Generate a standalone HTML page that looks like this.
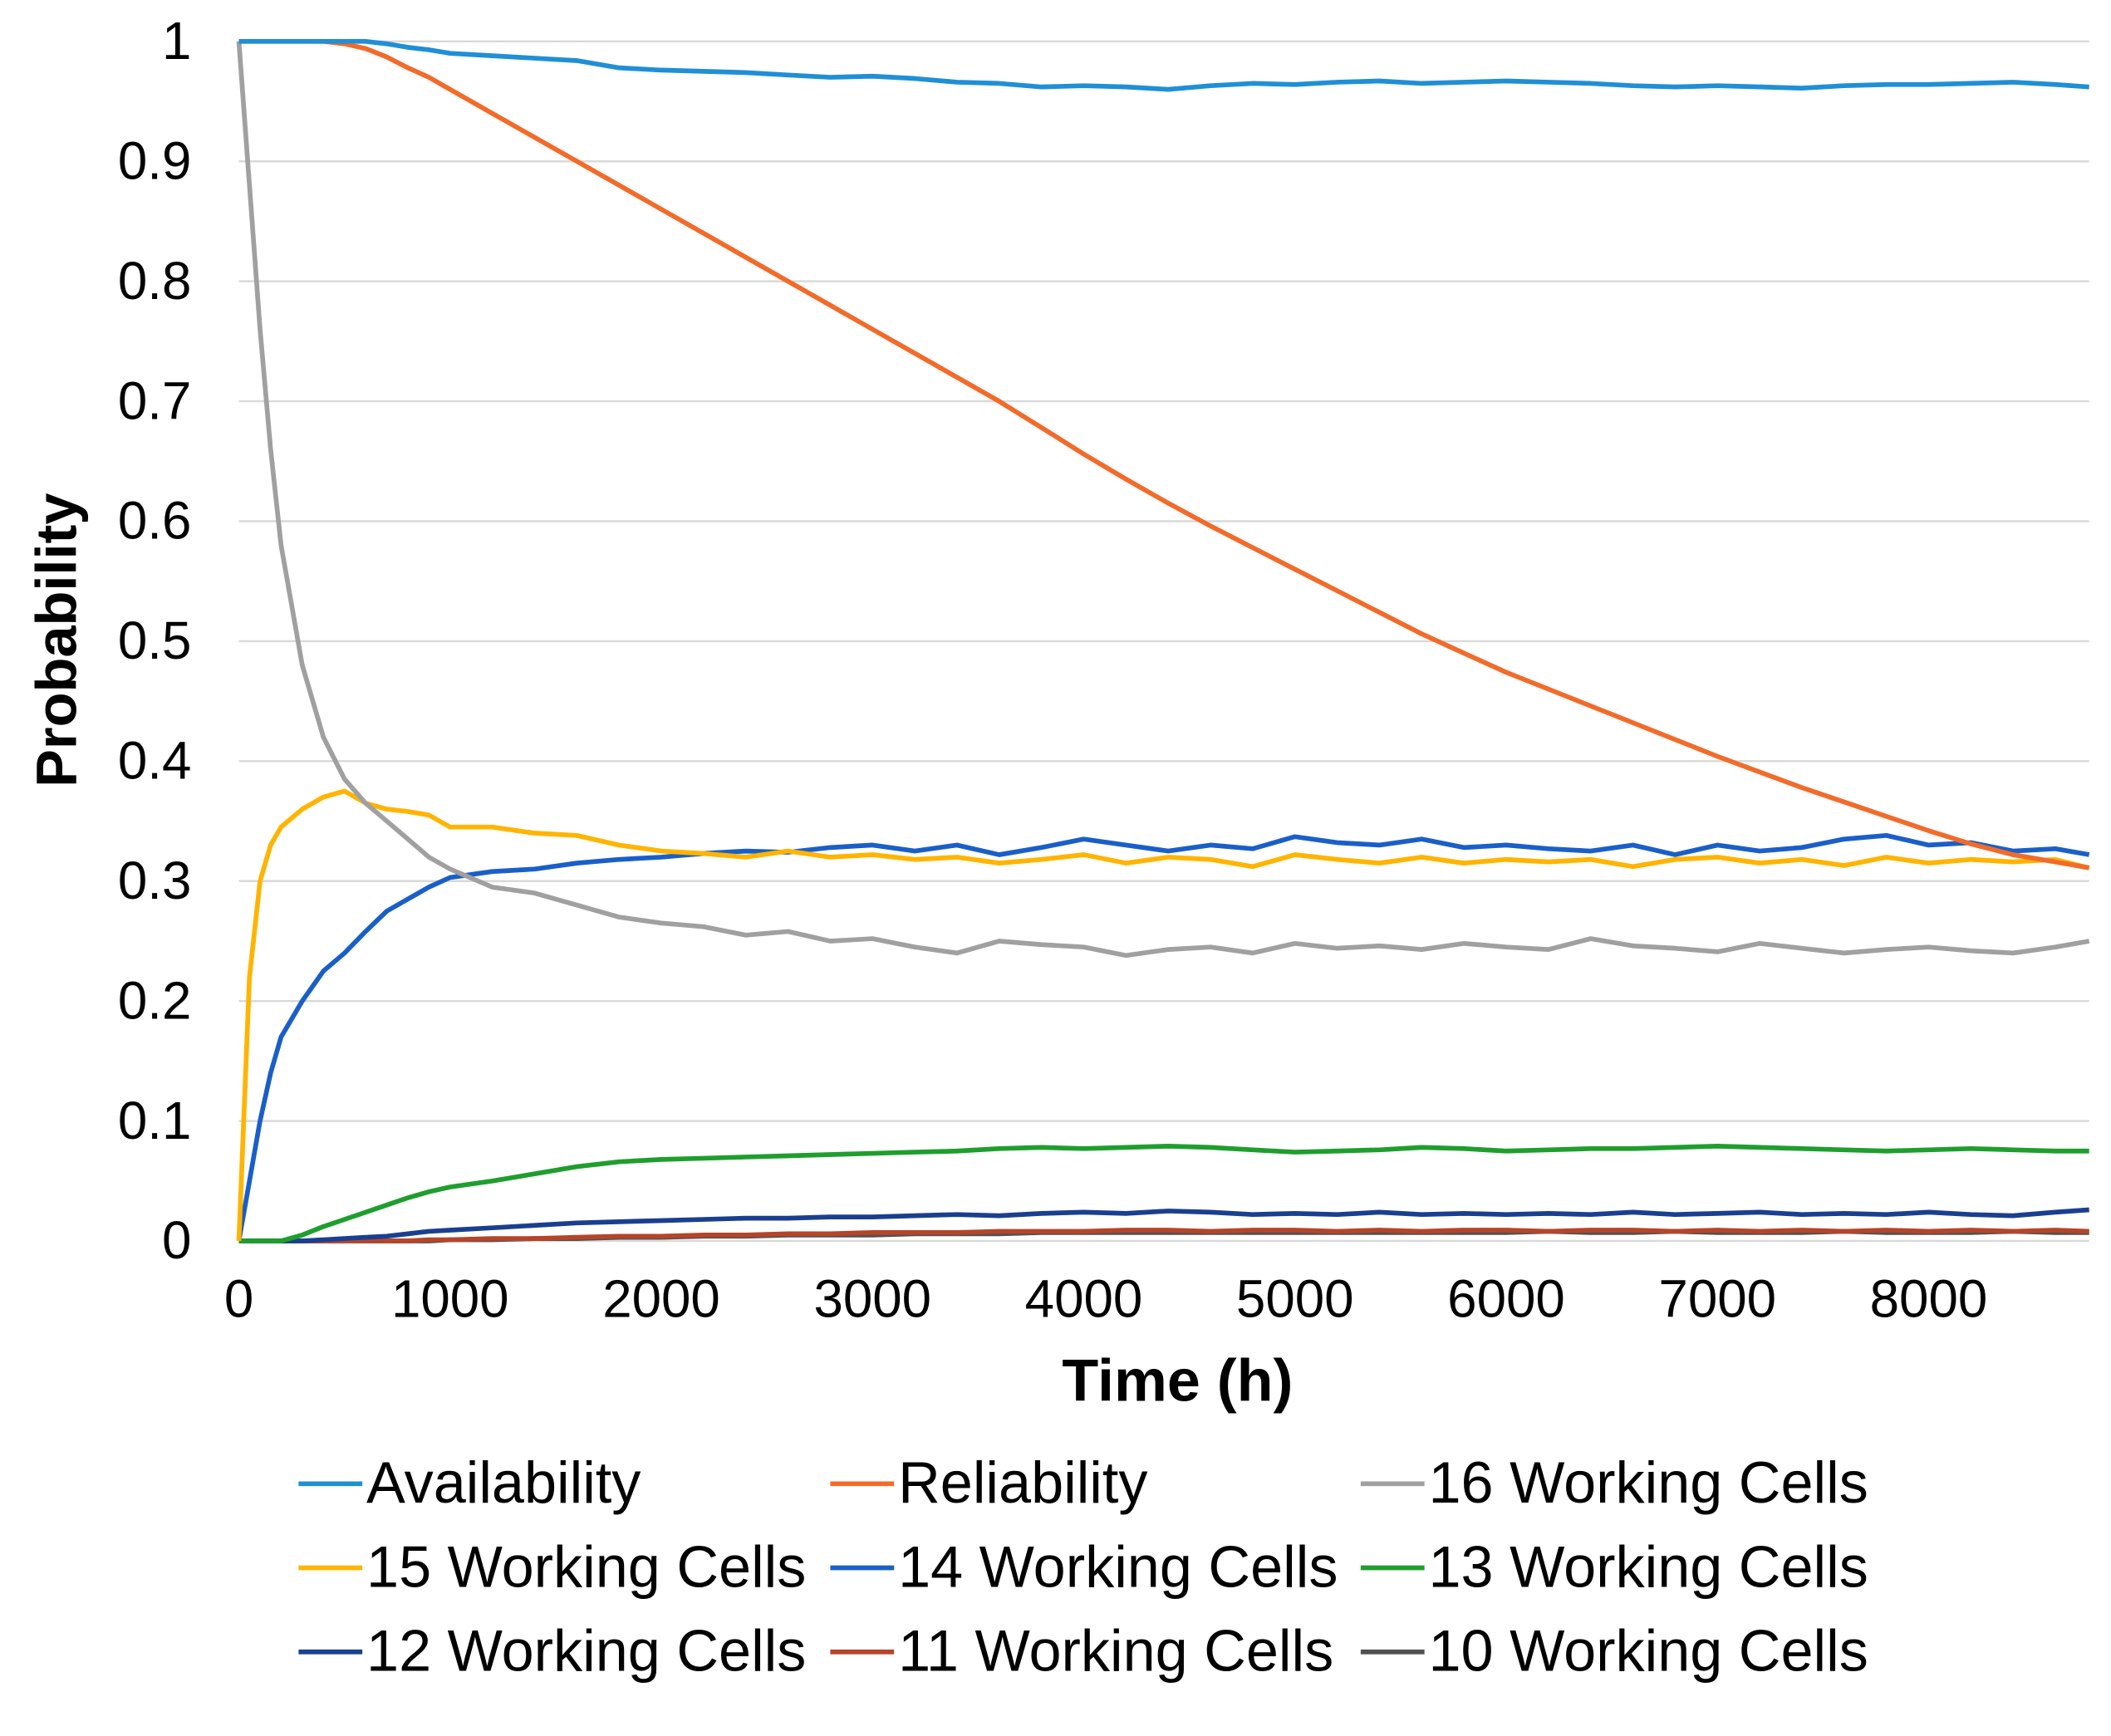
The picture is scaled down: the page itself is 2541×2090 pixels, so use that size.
<!DOCTYPE html>
<html><head><meta charset="utf-8"><style>
html,body{margin:0;padding:0;background:#fff;}
svg{display:block;font-family:"Liberation Sans",Arial,sans-serif;}
</style></head><body>
<svg id="chart" width="2541" height="2090" viewBox="0 0 1556 1280" xmlns="http://www.w3.org/2000/svg">
<g id="grid"></g>
<g id="yticks" font-size="39" text-anchor="end"></g>
<g id="xticks" font-size="39" text-anchor="middle"></g>
<g id="series"></g>
<text x="868" y="1033" font-size="44" font-weight="bold" text-anchor="middle">Time (h)</text>
<text transform="translate(56,472) rotate(-90)" font-size="42" font-weight="bold" text-anchor="middle">Probability</text>
<g id="legend" font-size="43"></g>
</svg>
<script>
const yTicks=[0,0.1,0.2,0.3,0.4,0.5,0.6,0.7,0.8,0.9,1];
const yTickLabels=["0","0.1","0.2","0.3","0.4","0.5","0.6","0.7","0.8","0.9","1"];
const xTicks=[0,1000,2000,3000,4000,5000,6000,7000,8000];
const seriesNames=["Availability","Reliability","16 Working Cells","15 Working Cells","14 Working Cells","13 Working Cells","12 Working Cells","11 Working Cells","10 Working Cells"];
const seriesColors=["#1f8fd6","#f26b2a","#a0a0a0","#ffb400","#1a5fc8","#1f9e2e","#1a3f8f","#b5452a","#505050"];
const times=[0,50,100,150,200,300,400,500,600,700,800,900,1000,1200,1400,1600,1800,2000,2200,2400,2600,2800,3000,3200,3400,3600,3800,4000,4200,4400,4600,4800,5000,5200,5400,5600,5800,6000,6200,6400,6600,6800,7000,7200,7400,7600,7800,8000,8200,8400,8600,8760];
const availability=[1,1,1,1,1,1,1,1,1,0.998,0.995,0.993,0.99,0.988,0.986,0.984,0.978,0.976,0.975,0.974,0.972,0.97,0.971,0.969,0.966,0.965,0.962,0.963,0.962,0.96,0.963,0.965,0.964,0.966,0.967,0.965,0.966,0.967,0.966,0.965,0.963,0.962,0.963,0.962,0.961,0.963,0.964,0.964,0.965,0.966,0.964,0.962];
const reliability=[1,1,1,1,1,1,1,0.998,0.994,0.987,0.978,0.97,0.96,0.94,0.92,0.9,0.88,0.86,0.84,0.82,0.8,0.78,0.76,0.74,0.72,0.7,0.678,0.656,0.635,0.615,0.596,0.578,0.56,0.542,0.524,0.506,0.49,0.474,0.46,0.446,0.432,0.418,0.404,0.391,0.378,0.366,0.354,0.342,0.331,0.322,0.316,0.311];
const cells16=[1,0.88,0.76,0.66,0.58,0.48,0.42,0.385,0.365,0.35,0.335,0.32,0.31,0.295,0.29,0.28,0.27,0.265,0.262,0.255,0.258,0.25,0.252,0.245,0.24,0.25,0.247,0.245,0.238,0.243,0.245,0.24,0.248,0.244,0.246,0.243,0.248,0.245,0.243,0.252,0.246,0.244,0.241,0.248,0.244,0.24,0.243,0.245,0.242,0.24,0.245,0.25];
const cells15=[0,0.22,0.3,0.33,0.345,0.36,0.37,0.375,0.365,0.36,0.358,0.355,0.345,0.345,0.34,0.338,0.33,0.325,0.323,0.32,0.325,0.32,0.322,0.318,0.32,0.315,0.318,0.322,0.315,0.32,0.318,0.312,0.322,0.318,0.315,0.32,0.315,0.318,0.316,0.318,0.312,0.318,0.32,0.315,0.318,0.313,0.32,0.315,0.318,0.316,0.318,0.311];
const cells14=[0,0.05,0.1,0.14,0.17,0.2,0.225,0.24,0.258,0.275,0.285,0.295,0.303,0.308,0.31,0.315,0.318,0.32,0.323,0.325,0.324,0.328,0.33,0.325,0.33,0.322,0.328,0.335,0.33,0.325,0.33,0.327,0.337,0.332,0.33,0.335,0.328,0.33,0.327,0.325,0.33,0.322,0.33,0.325,0.328,0.335,0.338,0.33,0.332,0.325,0.327,0.322];
const cells13=[0,0,0,0,0,0.005,0.012,0.018,0.024,0.03,0.036,0.041,0.045,0.05,0.056,0.062,0.066,0.068,0.069,0.07,0.071,0.072,0.073,0.074,0.075,0.077,0.078,0.077,0.078,0.079,0.078,0.076,0.074,0.075,0.076,0.078,0.077,0.075,0.076,0.077,0.077,0.078,0.079,0.078,0.077,0.076,0.075,0.076,0.077,0.076,0.075,0.075];
const cells12=[0,0,0,0,0,0,0.001,0.002,0.003,0.004,0.006,0.008,0.009,0.011,0.013,0.015,0.016,0.017,0.018,0.019,0.019,0.02,0.02,0.021,0.022,0.021,0.023,0.024,0.023,0.025,0.024,0.022,0.023,0.022,0.024,0.022,0.023,0.022,0.023,0.022,0.024,0.022,0.023,0.024,0.022,0.023,0.022,0.024,0.022,0.021,0.024,0.026];
const cells11=[0,0,0,0,0,0,0,0,0,0,0,0.001,0.001,0.002,0.002,0.003,0.004,0.004,0.005,0.005,0.006,0.006,0.007,0.007,0.007,0.008,0.008,0.008,0.009,0.009,0.008,0.009,0.009,0.008,0.009,0.008,0.009,0.009,0.008,0.009,0.009,0.008,0.009,0.008,0.009,0.008,0.009,0.008,0.009,0.008,0.009,0.008];
const cells10=[0,0,0,0,0,0,0,0,0,0,0,0,0.001,0.001,0.002,0.002,0.003,0.003,0.004,0.004,0.005,0.005,0.005,0.006,0.006,0.006,0.007,0.007,0.007,0.007,0.007,0.007,0.007,0.007,0.007,0.007,0.007,0.007,0.008,0.007,0.007,0.008,0.007,0.007,0.007,0.008,0.007,0.007,0.007,0.008,0.007,0.007];
const allSeries=[availability,reliability,cells16,cells15,cells14,cells13,cells12,cells11,cells10];
const X0=176,X1=1540,TMAX=8760,Y0=915,Y1=30.5;
const xs=t=>X0+(t/TMAX)*(X1-X0);
const ys=v=>Y0-v*(Y0-Y1);
const NS="http://www.w3.org/2000/svg";
const grid=document.getElementById('grid'),yt=document.getElementById('yticks'),xt=document.getElementById('xticks');
yTicks.forEach((v,i)=>{
  const l=document.createElementNS(NS,'line');
  
  
  l.setAttribute('x1',X0);l.setAttribute('x2',X1);l.setAttribute('y1',ys(v));l.setAttribute('y2',ys(v));
  l.setAttribute('stroke','#d9d9d9');l.setAttribute('stroke-width','1.5');
  grid.appendChild(l);
  const t=document.createElementNS(NS,'text');
  
  
  t.setAttribute('x',141);t.setAttribute('y',ys(v)+13);t.textContent=yTickLabels[i];
  yt.appendChild(t);
});
xTicks.forEach(v=>{
  const t=document.createElementNS(NS,'text');
  
  
  t.setAttribute('x',xs(v));t.setAttribute('y',971);t.textContent=String(v);
  xt.appendChild(t);
});
const sg=document.getElementById('series');
for(let k=allSeries.length-1;k>=0;k--){
  const p=document.createElementNS(NS,'polyline');
  
  
  p.setAttribute('points',allSeries[k].map((v,i)=>xs(times[i]).toFixed(1)+','+ys(v).toFixed(1)).join(' '));
  p.setAttribute('fill','none');p.setAttribute('stroke',seriesColors[k]);p.setAttribute('stroke-width','3.5');p.setAttribute('stroke-linejoin','round');
  sg.appendChild(p);
}
const lg=document.getElementById('legend');
const colX=[220,612,1003],rowY=[1094,1156,1218];
seriesNames.forEach((n,i)=>{
  const x=colX[i%3],y=rowY[Math.floor(i/3)];
  const g=document.createElementNS(NS,'g');
  
  
  const l=document.createElementNS(NS,'line');
  l.setAttribute('x1',x);l.setAttribute('x2',x+47);l.setAttribute('y1',y);l.setAttribute('y2',y);
  l.setAttribute('stroke',seriesColors[i]);l.setAttribute('stroke-width','3.5');
  const t=document.createElementNS(NS,'text');
  t.setAttribute('x',x+50);t.setAttribute('y',y+14);t.textContent=n;
  g.appendChild(l);g.appendChild(t);lg.appendChild(g);
});
</script>
</body></html>
